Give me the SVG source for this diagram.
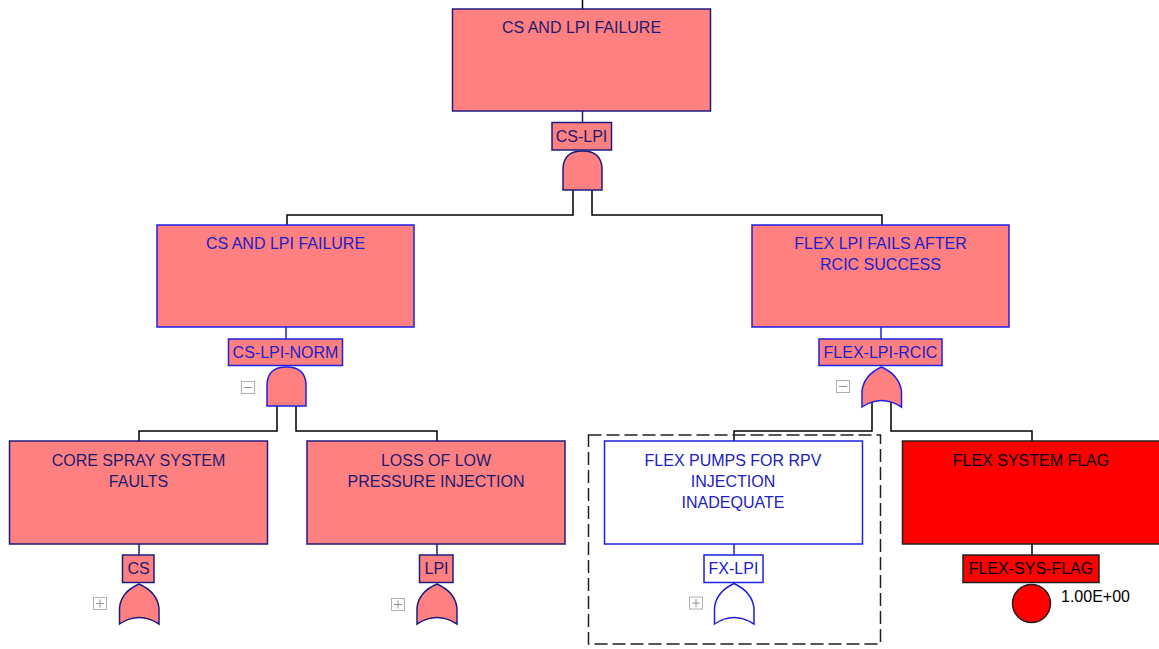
<svg xmlns="http://www.w3.org/2000/svg" width="1159" height="649" viewBox="0 0 1159 649">
<style>
.pk{fill:#FF8080;stroke:#1c1c80;stroke-width:1.5}
.pkb{fill:#FF8080;stroke:#2020e0;stroke-width:1.5}
.wh{fill:#FFFFFF;stroke:#2020e0;stroke-width:1.5}
.rd{fill:#FF0000;stroke:#202020;stroke-width:1.5}
.t{font-family:"Liberation Sans",Arial,sans-serif;font-size:16px;text-anchor:middle}
.tn{fill:#1c1c6e}
.tb{fill:#2020c8}
.tk{fill:#000000}
.ln{fill:none;stroke:#000;stroke-width:1.5}
.lnn{fill:none;stroke:#1c1c80;stroke-width:1.5}
.lnb{fill:none;stroke:#2020e0;stroke-width:1.5}
.bx{fill:#fff;stroke:#b0b0b0;stroke-width:1}
.bxl{stroke:#909090;stroke-width:1}
</style>
<rect width="1159" height="649" fill="#FFFFFF"/>
<g id="connectors">
<path class="ln" d="M582.5,0 V9"/>
<path class="lnn" d="M582.5,111 V122"/>
<path class="ln" d="M573,190 V215 H287 V225"/>
<path class="ln" d="M592,190 V215 H882 V225"/>
<path class="lnb" d="M286,327 V339"/>
<path class="lnb" d="M881,327 V339"/>
<path class="ln" d="M277,406 V431 H139 V441"/>
<path class="ln" d="M296,406 V431 H437 V441"/>
<path class="ln" d="M872,400 V431 H734 V441"/>
<path class="ln" d="M891,400 V431 H1032 V441"/>
<path class="lnn" d="M139,544 V555"/>
<path class="lnn" d="M437,544 V555"/>
<path class="lnb" d="M734,544 V555"/>
<path class="ln" d="M1032,544 V555"/>
<rect x="588.5" y="435" width="292" height="209" fill="none" stroke="#202020" stroke-width="1.5" stroke-dasharray="13,5"/>
</g>
<g id="top">
<rect class="pk" x="452.5" y="9" width="258" height="102"/>
<text class="t tn" x="581.5" y="33">CS AND LPI FAILURE</text>
<rect class="pk" x="552" y="122.5" width="59.5" height="27.5"/>
<text class="t tn" x="581.5" y="142">CS-LPI</text>
<path class="pk" d="M563,190 V168 Q564,151 582.5,151 Q601,151 602,168 V190 Z"/>
</g>
<g id="cs-lpi-norm">
<rect class="pkb" x="157" y="225" width="257" height="102"/>
<text class="t tb" x="285.5" y="249">CS AND LPI FAILURE</text>
<rect class="pkb" x="228.5" y="339" width="114" height="26.5"/>
<text class="t tb" x="285.5" y="358">CS-LPI-NORM</text>
<path class="pkb" d="M267,406 V384 Q268,367 286.5,367 Q305,367 306,384 V406 Z"/>
<rect class="bx" x="241.5" y="381.5" width="13" height="12"/>
<line class="bxl" x1="244" y1="387.5" x2="252" y2="387.5"/>
</g>
<g id="flex-lpi-rcic">
<rect class="pkb" x="752" y="225" width="257" height="102"/>
<text class="t tb" x="880.5" y="249">FLEX LPI FAILS AFTER</text>
<text class="t tb" x="880.5" y="270">RCIC SUCCESS</text>
<rect class="pkb" x="819" y="339" width="123" height="26.5"/>
<text class="t tb" x="880.5" y="358">FLEX-LPI-RCIC</text>
<path class="pkb" d="M862,407 V391 Q864,375 881.5,367 Q899,375 901.5,391 V407 Q881.5,394 862,407 Z"/>
<rect class="bx" x="836.5" y="380.5" width="13" height="12"/>
<line class="bxl" x1="839" y1="386.5" x2="847" y2="386.5"/>
</g>
<g id="cs">
<rect class="pk" x="9.5" y="441" width="258" height="103"/>
<text class="t tn" x="138.5" y="466">CORE SPRAY SYSTEM</text>
<text class="t tn" x="138.5" y="487">FAULTS</text>
<rect class="pk" x="122.5" y="555" width="31.5" height="27.5"/>
<text class="t tn" x="138.5" y="574">CS</text>
<path class="pk" d="M119.5,624 V608 Q121,592 139,584 Q157,592 159,608 V624 Q139,611 119.5,624 Z"/>
<rect class="bx" x="93.5" y="597.5" width="13" height="12"/>
<line class="bxl" x1="96" y1="603.5" x2="104" y2="603.5"/>
<line class="bxl" x1="100" y1="599.5" x2="100" y2="607.5"/>
</g>
<g id="lpi">
<rect class="pk" x="307" y="441" width="258" height="103"/>
<text class="t tn" x="436" y="466">LOSS OF LOW</text>
<text class="t tn" x="436" y="487">PRESSURE INJECTION</text>
<rect class="pk" x="419.5" y="555" width="33.5" height="27.5"/>
<text class="t tn" x="436.5" y="574">LPI</text>
<path class="pk" d="M417,624 V608 Q418.5,592 437,584 Q455,592 457,608 V624 Q437,611 417,624 Z"/>
<rect class="bx" x="391.5" y="598.5" width="13" height="12"/>
<line class="bxl" x1="394" y1="604.5" x2="402" y2="604.5"/>
<line class="bxl" x1="398" y1="600.5" x2="398" y2="608.5"/>
</g>
<g id="fx-lpi">
<rect class="wh" x="604.5" y="441" width="258" height="103"/>
<text class="t tb" x="733" y="466">FLEX PUMPS FOR RPV</text>
<text class="t tb" x="733" y="487">INJECTION</text>
<text class="t tb" x="733" y="508">INADEQUATE</text>
<rect class="wh" x="704" y="555" width="59" height="27.5"/>
<text class="t tb" x="733.5" y="574">FX-LPI</text>
<path class="wh" d="M714.5,624 V608 Q716,592 734,583.5 Q752,592 754,608 V624 Q734,611 714.5,624 Z"/>
<rect class="bx" x="689.5" y="597" width="13" height="12"/>
<line class="bxl" x1="692" y1="603" x2="700" y2="603"/>
<line class="bxl" x1="696" y1="599" x2="696" y2="607"/>
</g>
<g id="flex-sys-flag">
<rect class="rd" x="902.5" y="441" width="258" height="103"/>
<text class="t tk" x="1031" y="466">FLEX SYSTEM FLAG</text>
<rect class="rd" x="963" y="555" width="136" height="27.5"/>
<text class="t tk" x="1031" y="574">FLEX-SYS-FLAG</text>
<circle class="rd" cx="1031.5" cy="603.5" r="19"/>
<text x="1061" y="602" font-family="'Liberation Sans',Arial,sans-serif" font-size="16" fill="#000">1.00E+00</text>
</g>
</svg>
